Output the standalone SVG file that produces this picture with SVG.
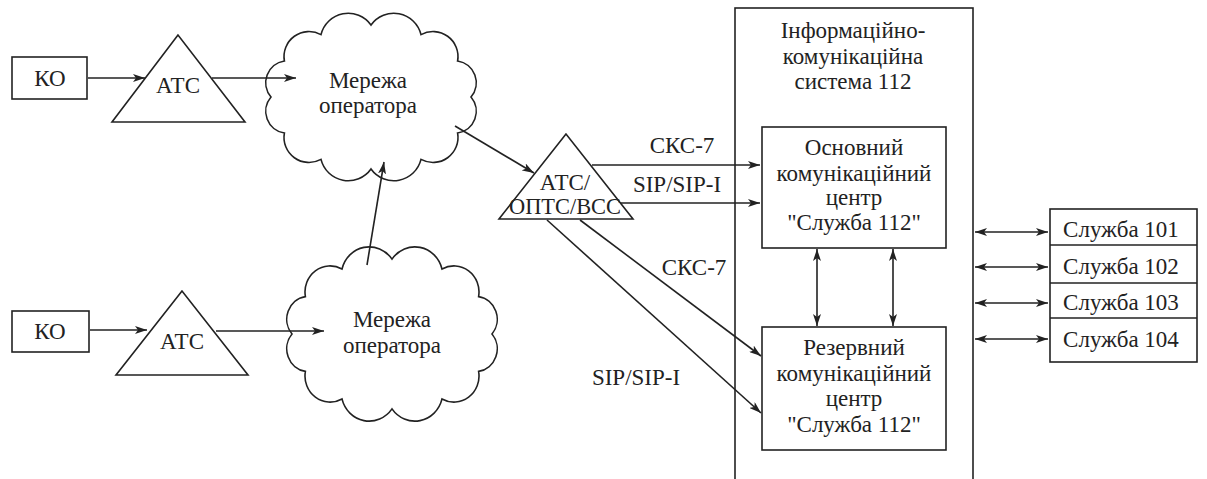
<svg xmlns="http://www.w3.org/2000/svg" width="1207" height="479" viewBox="0 0 1207 479">
<defs>
<style>
.s{fill:#fff;stroke:#222;stroke-width:1.6}
.t{font-family:"Liberation Serif","Times New Roman",serif;font-size:23px;fill:#222;text-anchor:middle}
.c{fill:none;stroke:#222;stroke-width:1.6}
.a{marker-end:url(#ah)}
.d{marker-end:url(#ah);marker-start:url(#ah)}
</style>
<marker id="ah" viewBox="0 0 12 8" refX="12" refY="4" markerWidth="12" markerHeight="8" orient="auto-start-reverse" markerUnits="userSpaceOnUse">
<path d="M0,0 L12,4 L0,8 L3,4 Z" fill="#222"/>
</marker>
<path id="cloud" d="M100,0 A22,22 0 0 1 86.6,36 A25,25 0 0 1 50,62.4 A28,28 0 0 1 0,72 A28,28 0 0 1 -50,62.4 A25,25 0 0 1 -86.6,36 A22,22 0 0 1 -100,0 A22,22 0 0 1 -86.6,-36 A25,25 0 0 1 -50,-62.4 A28,28 0 0 1 0,-72 A28,28 0 0 1 50,-62.4 A25,25 0 0 1 86.6,-36 A22,22 0 0 1 100,0 Z"/>
</defs>
<rect width="1207" height="479" fill="#fff"/>

<g id="ko1"><rect class="s" x="12" y="57" width="75" height="42"/><text class="t" x="50" y="86">КО</text></g>
<g id="atc1"><polygon class="s" points="178,35 112,122 245,122"/><text class="t" x="178" y="93">АТС</text></g>
<g id="net1"><use href="#cloud" class="s" transform="translate(371,97)"/><text class="t" x="368" y="88">Мережа</text><text class="t" x="368" y="113">оператора</text></g>

<g id="ko2"><rect class="s" x="12" y="311" width="77" height="41"/><text class="t" x="50" y="339">КО</text></g>
<g id="atc2"><polygon class="s" points="182,291 116,375 248,375"/><text class="t" x="182" y="349">АТС</text></g>
<g id="net2"><use href="#cloud" class="s" transform="translate(392,334) scale(1,1.04)"/><text class="t" x="392" y="327">Мережа</text><text class="t" x="392" y="353">оператора</text></g>

<g id="atc3"><polygon class="s" points="566,134 499,219 633,219"/><text class="t" x="565" y="190">АТС/</text><text class="t" x="565" y="214" textLength="112" lengthAdjust="spacingAndGlyphs">ОПТС/ВСС</text></g>

<g id="ics"><rect class="s" x="735" y="8" width="238" height="490"/><text class="t" x="853" y="38">Інформаційно-</text><text class="t" x="853" y="64">комунікаційна</text><text class="t" x="853" y="89">система 112</text></g>

<g id="main"><rect class="s" x="762" y="127" width="184" height="121"/><text class="t" x="854" y="155">Основний</text><text class="t" x="854" y="181">комунікаційний</text><text class="t" x="854" y="205">центр</text><text class="t" x="854" y="230">"Служба 112"</text></g>

<g id="reserve"><rect class="s" x="762" y="327" width="184" height="123"/><text class="t" x="854" y="355">Резервний</text><text class="t" x="854" y="381">комунікаційний</text><text class="t" x="854" y="406">центр</text><text class="t" x="854" y="432">"Служба 112"</text></g>

<g id="services">
<rect class="s" x="1050" y="209" width="147" height="153"/>
<line class="c" x1="1050" y1="245" x2="1197" y2="245"/>
<line class="c" x1="1050" y1="283" x2="1197" y2="283"/>
<line class="c" x1="1050" y1="318" x2="1197" y2="318"/>
<text class="t" x="1121" y="237">Служба 101</text>
<text class="t" x="1121" y="274">Служба 102</text>
<text class="t" x="1121" y="310">Служба 103</text>
<text class="t" x="1121" y="347">Служба 104</text>
</g>

<g id="connectors">
<line class="c a" x1="88" y1="78" x2="145" y2="78"/>
<line class="c a" x1="212" y1="78" x2="296" y2="78"/>
<line class="c a" x1="90" y1="330" x2="147" y2="330"/>
<line class="c a" x1="216" y1="331" x2="324" y2="331"/>
<line class="c a" x1="367" y1="265" x2="384" y2="162"/>
<line class="c a" x1="455" y1="126" x2="534" y2="173"/>
<line class="c a" x1="592" y1="165" x2="760" y2="165"/>
<line class="c a" x1="620" y1="203" x2="760" y2="203"/>
<line class="c a" x1="580" y1="220" x2="761" y2="356"/>
<line class="c a" x1="547" y1="220" x2="761" y2="413"/>
<line class="c d" x1="817" y1="249" x2="817" y2="326"/>
<line class="c d" x1="893" y1="249" x2="893" y2="326"/>
<line class="c d" x1="975" y1="232" x2="1048" y2="232"/>
<line class="c d" x1="975" y1="267" x2="1048" y2="267"/>
<line class="c d" x1="975" y1="303" x2="1048" y2="303"/>
<line class="c d" x1="975" y1="339" x2="1048" y2="339"/>
<text class="t" x="682" y="153">СКС-7</text>
<text class="t" x="677" y="192">SIP/SIP-I</text>
<text class="t" x="694" y="275">СКС-7</text>
<text class="t" x="636" y="385">SIP/SIP-I</text>
</g>
</svg>
